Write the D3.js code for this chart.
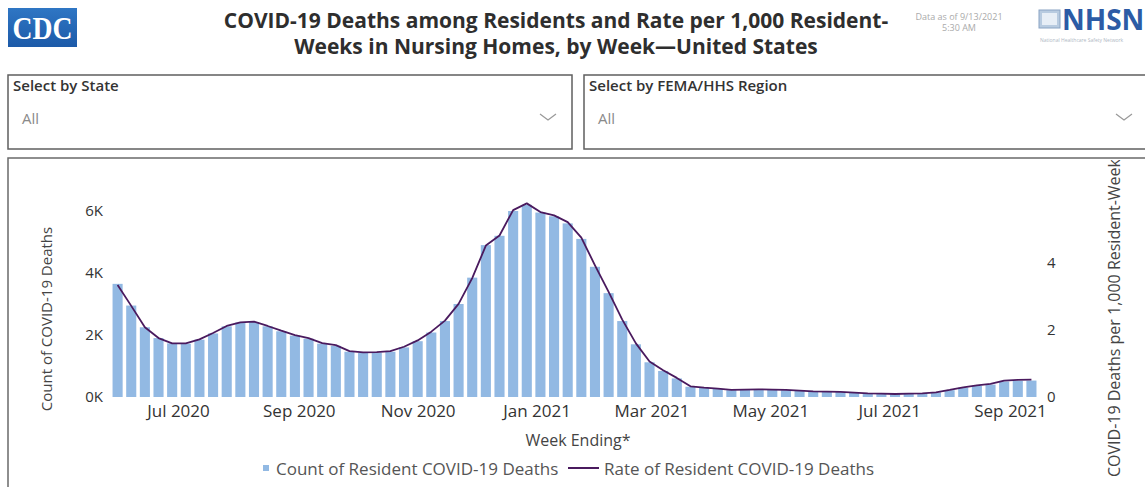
<!DOCTYPE html>
<html><head><meta charset="utf-8">
<script src="https://cdnjs.cloudflare.com/ajax/libs/d3/7.8.5/d3.min.js"></script>
<style>
html,body{margin:0;padding:0;background:#fff;}
svg{display:block;font-family:"Open Sans","Noto Sans",sans-serif;}
</style></head>
<body>
<svg id="c" width="1145" height="487"></svg>
<script>
// ---- data ----
const firstWeek = "2020-05-31";
const weekCount = 68;
const deathCounts = [3650,2950,2250,1900,1730,1720,1850,2050,2280,2400,
  2420,2280,2120,1980,1880,1720,1650,1460,1420,1430,
  1460,1600,1800,2080,2450,3000,3850,4900,5200,6000,
  6200,5950,5830,5600,5100,4200,3350,2450,1700,1120,
  840,600,330,290,260,220,230,240,230,220,
  200,180,170,160,140,120,110,100,110,120,
  150,220,300,360,400,500,520,530];
const deathRates = [3.34,2.72,2.08,1.76,1.60,1.60,1.72,1.91,2.12,2.23,
  2.25,2.12,1.98,1.85,1.76,1.61,1.55,1.37,1.33,1.34,
  1.37,1.50,1.69,1.95,2.28,2.78,3.55,4.52,4.82,5.58,
  5.78,5.52,5.42,5.22,4.76,3.93,3.14,2.31,1.60,1.06,
  0.80,0.57,0.32,0.28,0.25,0.21,0.22,0.23,0.22,0.21,
  0.19,0.17,0.16,0.15,0.13,0.11,0.10,0.09,0.10,0.11,
  0.14,0.21,0.29,0.35,0.39,0.49,0.51,0.52];
const xTickDates = ["2020-07-01","2020-09-01","2020-11-01","2021-01-01","2021-03-01","2021-05-01","2021-07-01","2021-09-01"];
const leftTicks = [0,2000,4000,6000];
const rightTicks = [0,2,4];
const titleLines = ["COVID-19 Deaths among Residents and Rate per 1,000 Resident-","Weeks in Nursing Homes, by Week\u2014United States"];
const legendItems = ["Count of Resident COVID-19 Deaths","Rate of Resident COVID-19 Deaths"];

const parse = d3.utcParse("%Y-%m-%d");
const week0 = parse(firstWeek);
const weeks = d3.range(weekCount).map(i => d3.utcDay.offset(week0, 7*i));
const data = weeks.map((d,i)=>({date:d,count:deathCounts[i],rate:deathRates[i]}));

const svg = d3.select("#c");
const BAR = "#92b9e3", LINE = "#4a1a5e";

// ---- header ----
const defs = svg.append("defs");
const grad = defs.append("linearGradient").attr("id","lg").attr("x1",0).attr("y1",0).attr("x2",0).attr("y2",1);
grad.append("stop").attr("offset","0%").attr("stop-color","#2f76c4");
grad.append("stop").attr("offset","100%").attr("stop-color","#1c5aa8");
const logoG = svg.append("g");
logoG.append("rect").attr("x",8).attr("y",8).attr("width",69).attr("height",39).attr("fill","url(#lg)");
logoG.append("text").attr("x",42.5).attr("y",39).attr("text-anchor","middle")
  .attr("font-family","Liberation Serif, serif").attr("font-size",32).attr("font-weight",700).attr("fill","#fff")
  .attr("textLength",60).attr("lengthAdjust","spacingAndGlyphs").text("CDC");

svg.append("g").selectAll("text").data(titleLines).join("text")
  .attr("x",556).attr("y",(d,i)=>28+i*26).attr("text-anchor","middle")
  .attr("font-size",21).attr("font-weight",700).attr("fill","#2e2e2e").text(d=>d);

svg.append("g").selectAll("text").data(["Data as of 9/13/2021","5:30 AM"]).join("text")
  .attr("x",959).attr("y",(d,i)=>20+i*11).attr("text-anchor","middle")
  .attr("font-size",9).attr("fill","#aaa").text(d=>d);

const nh = svg.append("g");
nh.append("rect").attr("x",1039).attr("y",10).attr("width",21).attr("height",18).attr("fill","#b8cbe0").attr("stroke","#8aa4c4");
nh.append("rect").attr("x",1042).attr("y",13).attr("width",15).attr("height",12).attr("fill","#e7eef6");
nh.append("text").attr("x",1062).attr("y",30).attr("font-size",28).attr("font-weight",700)
  .attr("fill","#2c5ba5").attr("font-family","Noto Sans, sans-serif").text("NHSN");
nh.append("text").attr("x",1040).attr("y",42).attr("font-size",5).attr("fill","#b0b8c4").text("National Healthcare Safety Network");

// ---- slicers ----
const slicers = [{x:8,w:564,label:"Select by State"},{x:584,w:570,label:"Select by FEMA/HHS Region"}];
const sg = svg.append("g").selectAll("g").data(slicers).join("g");
sg.append("rect").attr("x",d=>d.x).attr("y",75).attr("width",d=>d.w).attr("height",74)
  .attr("fill","#fff").attr("stroke","#5f5f5f").attr("stroke-width",1.5);
sg.append("text").attr("x",d=>d.x+5).attr("y",91).attr("font-size",15).attr("font-weight",600)
  .attr("fill","#333").text(d=>d.label);
sg.append("text").attr("x",d=>d.x+14).attr("y",124).attr("font-size",15).attr("fill","#8a8a8a").text("All");
sg.append("path").attr("d",d=>`M${d.x+532},114 l8,6 l8,-6`).attr("fill","none").attr("stroke","#999").attr("stroke-width",1.2);

// ---- chart panel ----
svg.append("rect").attr("x",8).attr("y",158).attr("width",1150).attr("height",340)
  .attr("fill","#fff").attr("stroke","#6a6a6a").attr("stroke-width",1.5);

const x = d3.scaleUtc().domain([parse(xTickDates[0]), parse(xTickDates[7])]).range([178,1010]);
const yL = d3.scaleLinear().domain([0,6000]).range([397,211]);
const yR = d3.scaleLinear().domain([0,4]).range([397,263]);

const bw = (x(weeks[1]) - x(weeks[0]))*0.74;
svg.append("g").selectAll("rect").data(data).join("rect")
  .attr("x",d=>x(d.date)-bw/2).attr("y",d=>yL(d.count))
  .attr("width",bw).attr("height",d=>yL(0)-yL(d.count)).attr("fill",BAR);

svg.append("path").datum(data)
  .attr("d",d3.line().x(d=>x(d.date)).y(d=>yR(d.rate)))
  .attr("fill","none").attr("stroke",LINE).attr("stroke-width",1.8).attr("stroke-linejoin","round");

// axes
const axL = svg.append("g").attr("transform","translate(110,0)")
  .call(d3.axisLeft(yL).tickValues(leftTicks).tickSize(0).tickPadding(7).tickFormat(d=>d/1000+"K"));
const axR = svg.append("g").attr("transform","translate(1040,0)")
  .call(d3.axisRight(yR).tickValues(rightTicks).tickSize(0).tickPadding(7).tickFormat(d3.format("d")));
const axB = svg.append("g").attr("transform","translate(0,397)")
  .call(d3.axisBottom(x).tickValues(xTickDates.map(parse)).tickSize(0).tickPadding(8).tickFormat(d3.utcFormat("%b %Y")));
[axL,axR,axB].forEach(a=>{a.select(".domain").remove();
  a.selectAll("text").attr("fill","#333").attr("font-family","Open Sans, sans-serif");});
axL.selectAll("text").attr("font-size",15);
axR.selectAll("text").attr("font-size",15);
axB.selectAll("text").attr("font-size",17);

svg.append("text").attr("transform","translate(52,319) rotate(-90)").attr("text-anchor","middle")
  .attr("font-size",15).attr("fill","#444").text("Count of COVID-19 Deaths");

defs.append("clipPath").attr("id","rc").append("rect").attr("x",1090).attr("y",160).attr("width",50).attr("height",330);
svg.append("g").attr("clip-path","url(#rc)").append("text")
  .attr("transform","translate(1120,477) rotate(-90)").attr("text-anchor","start")
  .attr("font-size",16).attr("fill","#444").text("COVID-19 Deaths per 1,000 Resident-Weeks");

svg.append("text").attr("x",578).attr("y",446).attr("text-anchor","middle")
  .attr("font-size",16).attr("fill","#444").text("Week Ending*");

// legend
const lg = svg.append("g");
lg.append("rect").attr("x",263).attr("y",465).attr("width",6).attr("height",6).attr("fill",BAR);
lg.append("text").attr("x",276).attr("y",475).attr("font-size",17).attr("fill","#555").text(legendItems[0]);
lg.append("line").attr("x1",568).attr("x2",599).attr("y1",468).attr("y2",468).attr("stroke",LINE).attr("stroke-width",2);
lg.append("text").attr("x",604).attr("y",475).attr("font-size",17).attr("fill","#555").text(legendItems[1]);
</script>
</body></html>
